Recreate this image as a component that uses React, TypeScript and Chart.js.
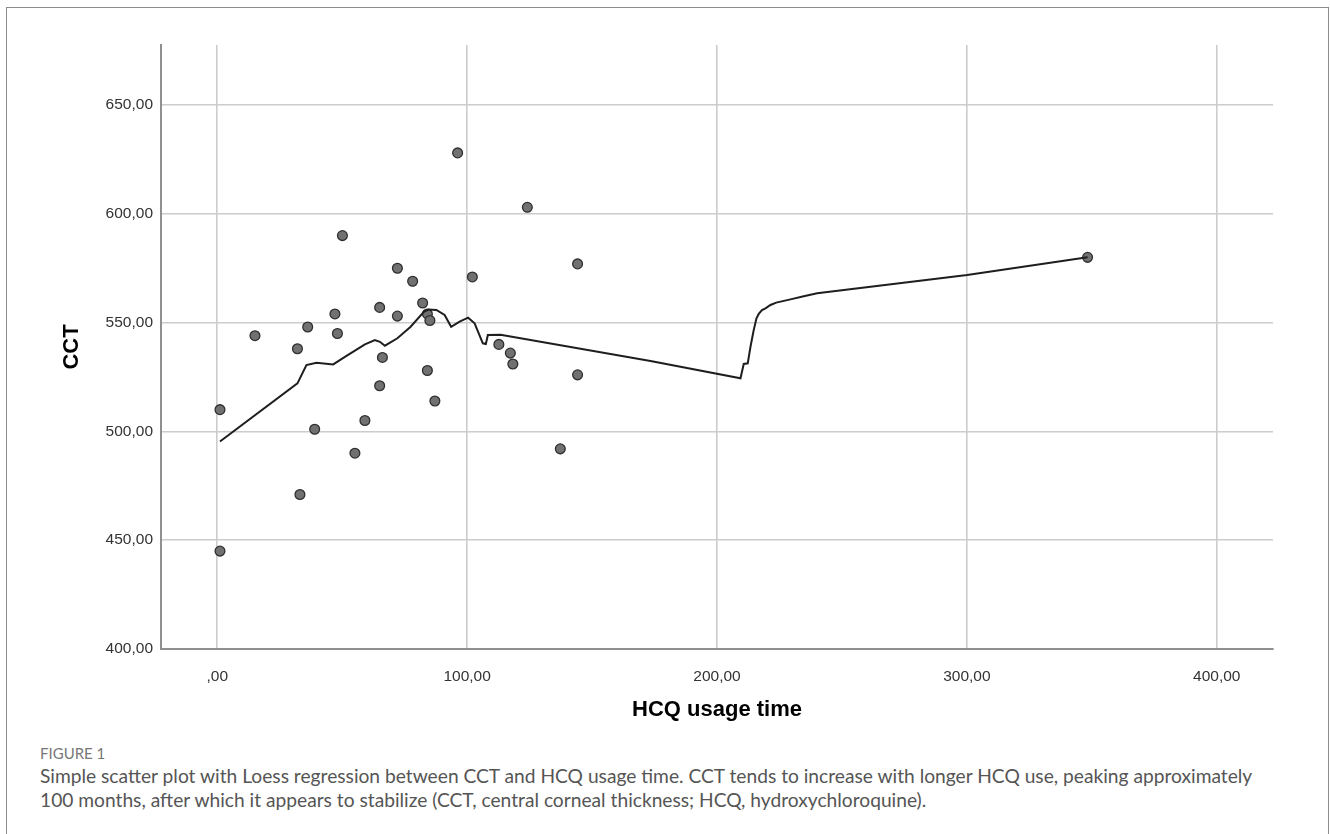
import React, { useEffect, useRef } from "react";
import { Chart, registerables } from "chart.js";

Chart.register(...registerables);

// Scatter observations: HCQ usage time (months) vs CCT (µm)
const HCQ_TIME = [
  1.1, 1.1, 15.1, 32.1, 33.1, 36.2, 39.0, 47.1, 48.1, 50.1, 55.1, 59.1, 65.0,
  65.0, 66.1, 72.1, 72.1, 78.2, 82.2, 84.1, 84.1, 85.1, 87.1, 96.2, 102.1,
  112.7, 117.3, 118.3, 124.1, 137.3, 144.2, 144.2, 348.3,
];
const CCT = [
  510, 445, 544, 538, 471, 548, 501, 554, 545, 590, 490, 505, 521, 557, 534,
  553, 575, 569, 559, 554, 528, 551, 514, 628, 571, 540, 536, 531, 603, 492,
  577, 526, 580,
];

// Loess fit curve
const LOESS_X = [
  1.1, 32.1, 35.7, 39.7, 46.4, 51.1, 59.1, 63.1, 65.1, 67.1, 72.1, 77.4, 82.7,
  84.5, 87.7, 91.0, 93.6, 97.0, 100.4, 103.0, 106.3, 107.5, 108.3, 113.4,
  173.4, 209.4, 210.7, 212.3, 213.4, 214.7, 215.8, 216.7, 218.0, 219.4, 221.4,
  223.7, 229.4, 234.7, 240.1, 300.1, 348.3,
];
const LOESS_Y = [
  495.4, 522.1, 530.5, 531.6, 530.8, 534.3, 540.0, 542.0, 541.2, 539.4, 542.8,
  548.1, 555.0, 556.0, 555.8, 553.5, 548.1, 550.5, 552.3, 549.7, 540.5, 540.2,
  544.3, 544.4, 532.4, 524.4, 531.0, 531.3, 538.9, 546.6, 552.0, 554.0, 555.8,
  556.6, 558.1, 559.2, 560.7, 562.1, 563.5, 571.9, 580.0,
];

const X_TICKS = [0, 100, 200, 300, 400];
const X_TICK_LABELS = [",00", "100,00", "200,00", "300,00", "400,00"];
const Y_TICKS = [400, 450, 500, 550, 600, 650];
const Y_TICK_LABELS = ["400,00", "450,00", "500,00", "550,00", "600,00", "650,00"];

const X_TITLE = "HCQ usage time";
const Y_TITLE = "CCT";
const FIGURE_LABEL = "FIGURE 1";
const CAPTION_LINES = [
  "Simple scatter plot with Loess regression between CCT and HCQ usage time. CCT tends to increase with longer HCQ use, peaking approximately",
  "100 months, after which it appears to stabilize (CCT, central corneal thickness; HCQ, hydroxychloroquine).",
];

export default function App() {
  const canvasRef = useRef<HTMLCanvasElement>(null);

  useEffect(() => {
    const canvas = canvasRef.current;
    if (!canvas) return;
    const tickFont = { family: "'Liberation Sans', Arial, sans-serif", size: 15.5 };
    const titleFont = { family: "'Liberation Sans', Arial, sans-serif", size: 22, weight: "bold" as const };
    const chart = new Chart(canvas, {
      type: "scatter",
      data: {
        datasets: [
          {
            label: "Loess",
            data: LOESS_X.map((x, i) => ({ x, y: LOESS_Y[i] })),
            showLine: true,
            borderColor: "#1e1e1e",
            borderWidth: 2,
            pointRadius: 0,
            tension: 0,
            order: 0,
          },
          {
            label: "CCT",
            data: HCQ_TIME.map((x, i) => ({ x, y: CCT[i] })),
            showLine: false,
            pointRadius: 4.9,
            pointBackgroundColor: "#717171",
            pointBorderColor: "#2f2f2f",
            pointBorderWidth: 1.3,
            order: 1,
          },
        ],
      },
      options: {
        responsive: false,
        animation: false,
        devicePixelRatio: 1,
        layout: { padding: { left: 0, top: 45, right: 57, bottom: 0 } },
        plugins: { legend: { display: false }, tooltip: { enabled: false } },
        scales: {
          x: {
            type: "linear",
            min: -22.5,
            max: 422.5,
            afterBuildTicks: (s: any) => {
              s.ticks = X_TICKS.map((v) => ({ value: v }));
            },
            afterFit: (s: any) => {
              s.height = 91;
            },
            ticks: {
              callback: (_v: any, i: number) => X_TICK_LABELS[i],
              font: tickFont,
              color: "#333",
              padding: 18,
              maxRotation: 0,
            },
            grid: { color: "#cccccc", lineWidth: 1.6, drawTicks: false },
            border: { color: "#8f8f8f", width: 2 },
            title: {
              display: true,
              text: X_TITLE,
              font: titleFont,
              color: "#000",
              padding: { top: 0, bottom: 17 },
            },
          },
          y: {
            type: "linear",
            min: 400,
            max: 677.6,
            afterBuildTicks: (s: any) => {
              s.ticks = Y_TICKS.map((v) => ({ value: v }));
            },
            afterFit: (s: any) => {
              s.width = 161;
            },
            ticks: {
              callback: (_v: any, i: number) => Y_TICK_LABELS[i],
              font: tickFont,
              color: "#333",
              padding: 8,
            },
            grid: { color: "#cccccc", lineWidth: 1.6, drawTicks: false },
            border: { color: "#8f8f8f", width: 2 },
            title: {
              display: true,
              text: Y_TITLE,
              font: titleFont,
              color: "#000",
              padding: { top: 59, bottom: 0 },
            },
          },
        },
      },
    });
    return () => chart.destroy();
  }, []);

  return (
    <div
      style={{
        position: "absolute",
        left: 0,
        top: 0,
        width: 1330,
        height: 834,
        overflow: "hidden",
        background: "#fff",
      }}
    >
      <div
        style={{
          position: "absolute",
          left: 6,
          top: 7,
          width: 1323,
          height: 827,
          border: "1px solid #8c8c8c",
          borderBottom: "none",
          boxSizing: "border-box",
        }}
      />
      <canvas
        ref={canvasRef}
        width={1330}
        height={740}
        style={{ position: "absolute", left: 0, top: 0, width: 1330, height: 740 }}
      />
      <div
        style={{
          position: "absolute",
          left: 40,
          top: 744,
          fontFamily: "Lato, 'Open Sans', sans-serif",
          fontSize: 15,
          lineHeight: "18px",
          color: "#777",
          whiteSpace: "nowrap",
        }}
      >
        {FIGURE_LABEL}
      </div>
      <div
        style={{
          position: "absolute",
          left: 40,
          top: 764,
          fontFamily: "Lato, 'Open Sans', sans-serif",
          fontSize: 19.2,
          lineHeight: "23.5px",
          color: "#555",
          whiteSpace: "nowrap",
        }}
      >
        {CAPTION_LINES.map((l, i) => (
          <div key={i}>{l}</div>
        ))}
      </div>
    </div>
  );
}
